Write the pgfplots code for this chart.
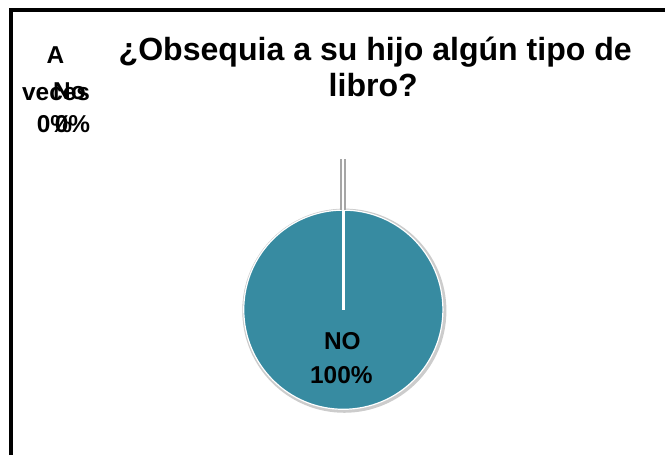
\documentclass[border=0pt]{standalone}
\usepackage{pgfplots}
\pgfplotsset{compat=1.18}
\usepackage{pgfplotstable}
\usepackage{fontspec}
\setmainfont{Liberation Sans}
\definecolor{pieteal}{RGB}{55,139,161}
\pgfplotstableread{
label value
{A veces} 0
No 0
NO 100
}\piedata
\begin{document}
\pgfplotstablegetelem{2}{value}\of\piedata
\pgfmathsetmacro{\noang}{3.6*\pgfplotsretval}
\begin{tikzpicture}
\useasboundingbox (0,0) rectangle (665pt,457pt);
\begin{axis}[
  at={(0,0)}, anchor=south west,
  x=1pt, y=1pt, xmin=0, xmax=665, ymin=0, ymax=457,
  hide axis, clip=false, scale only axis,
]
% frame
\draw[black, line width=4.5pt] (axis cs:8.5,0) -- (axis cs:8.5,447) -- (axis cs:665,447);
% shadow
\fill[gray!40] (axis cs:343,145) circle[radius=102.5pt];
% slice NO (100%)
\fill[pieteal, draw=white, line width=1.2pt] (axis cs:342,146) -- ++(90:100pt)
   arc[start angle=90, delta angle=-\noang, radius=100pt] -- cycle;
\draw[white, line width=2.4pt] (axis cs:342,146) -- (axis cs:342,246);
% leader line
\draw[gray!70, line width=6pt] (axis cs:342,246) -- (axis cs:342,297);
\draw[white, line width=2.2pt] (axis cs:342,245) -- (axis cs:342,297);
% title
\node[anchor=base, font=\fontsize{32.2}{38}\selectfont\bfseries] at (axis cs:374,396) {¿Obsequia a su hijo algún tipo de};
\node[anchor=base, font=\fontsize{32.2}{38}\selectfont\bfseries] at (axis cs:372,360) {libro?};
% data labels
\node[anchor=base, font=\fontsize{24.5}{29}\selectfont\bfseries] at (axis cs:341,106) {NO};
\node[anchor=base, font=\fontsize{24.5}{29}\selectfont\bfseries] at (axis cs:340,72) {100\%};
\node[anchor=base, font=\fontsize{24.5}{29}\selectfont\bfseries] at (axis cs:53,393) {A};
\node[anchor=base, font=\fontsize{24.5}{29}\selectfont\bfseries] at (axis cs:53.5,356) {veces};
\node[anchor=base, font=\fontsize{24.5}{29}\selectfont\bfseries] at (axis cs:52,324) {0\%};
\node[anchor=base, font=\fontsize{24.5}{29}\selectfont\bfseries] at (axis cs:67,357) {No};
\node[anchor=base, font=\fontsize{24.5}{29}\selectfont\bfseries] at (axis cs:70,324) {0\%};
\end{axis}
\end{tikzpicture}
\end{document}
